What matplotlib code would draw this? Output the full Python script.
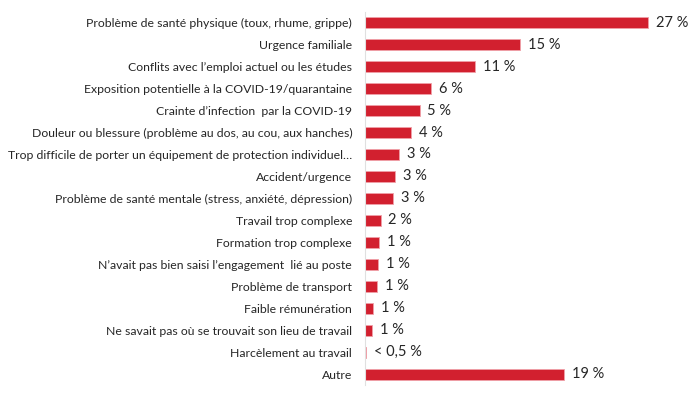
import matplotlib.pyplot as plt

plt.rcParams['font.family'] = ['Lato', 'DejaVu Sans']

reasons = [
    "Problème de santé physique (toux, rhume, grippe)",
    "Urgence familiale",
    "Conflits avec l’emploi actuel ou les études",
    "Exposition potentielle à la COVID-19/quarantaine",
    "Crainte d’infection  par la COVID-19",
    "Douleur ou blessure (problème au dos, au cou, aux hanches)",
    "Trop difficile de porter un équipement de protection individuel…",
    "Accident/urgence",
    "Problème de santé mentale (stress, anxiété, dépression)",
    "Travail trop complexe",
    "Formation trop complexe",
    "N’avait pas bien saisi l’engagement  lié au poste",
    "Problème de transport",
    "Faible rémunération",
    "Ne savait pas où se trouvait son lieu de travail",
    "Harcèlement au travail",
    "Autre",
]
values = [26.9, 14.7, 10.5, 6.3, 5.2, 4.4, 3.3, 2.9, 2.7, 1.5, 1.4, 1.3, 1.2, 0.75, 0.7, 0.12, 18.9]
value_labels = ["27 %", "15 %", "11 %", "6 %", "5 %", "4 %", "3 %", "3 %", "3 %",
                "2 %", "1 %", "1 %", "1 %", "1 %", "1 %", "< 0,5 %", "19 %"]

fig = plt.figure(figsize=(7, 4), dpi=100)
ax = fig.add_axes([0.521, 0.0375, 0.479, 0.933])

y = list(range(len(reasons)))
ax.barh(y, values, height=0.5, color='#d2202f', edgecolor='#f0a0a8', linewidth=0.6)
for yi, v, lab in zip(y, values, value_labels):
    ax.text(v + 0.75, yi, lab, va='center', ha='left', fontsize=10.5, color='#262626')

ax.set_yticks(y)
ax.set_yticklabels(reasons, fontsize=8.8, color='#262626')
ax.tick_params(axis='y', length=0, pad=9)
ax.set_xticks([])
ax.set_xlim(0, 31.8)
ax.set_ylim(16.5, -0.5)
for s in ['top', 'right', 'bottom']:
    ax.spines[s].set_visible(False)
ax.spines['left'].set_color('#e0e0e0')
ax.spines['left'].set_linewidth(0.8)

fig.savefig('out.png', dpi=100)
